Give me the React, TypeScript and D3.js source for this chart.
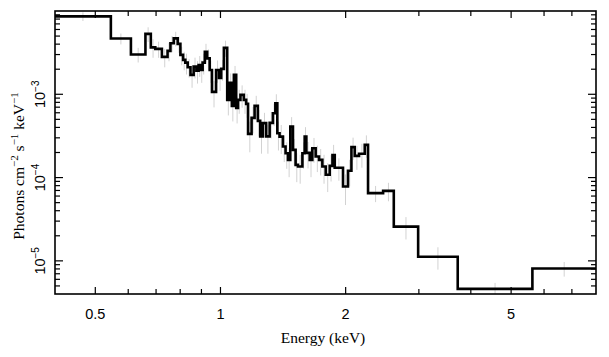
import React from "react";
import * as d3 from "d3";

// Bin edges (keV)
const binEdges = [
  0.4, 0.545, 0.609, 0.66, 0.68, 0.697, 0.723, 0.746, 0.758, 0.772,
  0.789, 0.801, 0.813, 0.823, 0.834, 0.847, 0.862, 0.875, 0.886, 0.897,
  0.906, 0.917, 0.929, 0.942, 0.954, 0.976, 0.992, 1.004, 1.019, 1.038,
  1.051, 1.065, 1.077, 1.091, 1.102, 1.117, 1.138, 1.153, 1.165, 1.188,
  1.208, 1.23, 1.246, 1.264, 1.288, 1.313, 1.337, 1.355, 1.37, 1.387,
  1.413, 1.434, 1.453, 1.472, 1.494, 1.516, 1.536, 1.574, 1.594, 1.609,
  1.639, 1.663, 1.694, 1.726, 1.758, 1.791, 1.831, 1.859, 1.883, 1.971,
  2.026, 2.065, 2.103, 2.154, 2.223, 2.264, 2.461, 2.611, 2.988, 3.72,
  5.625, 8.0,
];

// Unfolded flux per bin (photons cm^-2 s^-1 keV^-1)
const fluxValues = [
  8.61e-3, 4.67e-3, 3.01e-3, 5.31e-3, 3.66e-3, 3.51e-3, 2.81e-3, 3.32e-3, 4.1e-3, 4.69e-3,
  4.03e-3, 2.97e-3, 2.59e-3, 2.4e-3, 2.11e-3, 1.71e-3, 2.15e-3, 1.92e-3, 2.25e-3, 1.96e-3,
  2.4e-3, 3.23e-3, 2.7e-3, 1.96e-3, 1.07e-3, 1.96e-3, 1.57e-3, 2.02e-3, 3.61e-3, 8.57e-4,
  1.37e-3, 7.26e-4, 1.71e-3, 6.87e-4, 8.57e-4, 9.84e-4, 8.57e-4, 7.67e-4, 3.35e-4, 5.21e-4,
  7.26e-4, 4.8e-4, 3.12e-4, 4.5e-4, 3.12e-4, 4.54e-4, 5.93e-4, 7.82e-4, 3.41e-4, 3.1e-4,
  2.36e-4, 1.96e-4, 1.63e-4, 4.09e-4, 2.15e-4, 1.42e-4, 1.36e-4, 1.96e-4, 3.1e-4, 1.98e-4,
  1.63e-4, 2.25e-4, 1.79e-4, 1.63e-4, 1.36e-4, 1.08e-4, 1.38e-4, 1.87e-4, 1.31e-4, 7.8e-5,
  1.21e-4, 2.32e-4, 1.82e-4, 1.93e-4, 2.47e-4, 6.5e-5, 6.92e-5, 2.58e-5, 1.12e-5, 4.61e-6,
  8.08e-6,
];

// Fractional 1-sigma errors per bin
const errorFrac = [
  0.12, 0.15, 0.2, 0.2, 0.25, 0.22, 0.25, 0.25, 0.22, 0.2,
  0.22, 0.25, 0.25, 0.28, 0.25, 0.3, 0.28, 0.3, 0.28, 0.3,
  0.28, 0.25, 0.28, 0.3, 0.35, 0.3, 0.3, 0.28, 0.22, 0.35,
  0.3, 0.35, 0.28, 0.35, 0.32, 0.3, 0.32, 0.32, 0.4, 0.35,
  0.32, 0.35, 0.38, 0.33, 0.38, 0.35, 0.3, 0.28, 0.38, 0.38,
  0.35, 0.35, 0.38, 0.3, 0.35, 0.38, 0.38, 0.35, 0.3, 0.35,
  0.38, 0.33, 0.35, 0.35, 0.38, 0.38, 0.35, 0.32, 0.3, 0.4,
  0.35, 0.3, 0.32, 0.32, 0.3, 0.22, 0.25, 0.3, 0.3, 0.18,
  0.2,
];

const xMajorTicks = [0.5, 1, 2, 5];
const xMinorTicks = [0.6, 0.7, 0.8, 0.9, 3, 4, 6, 7];
const yMajorTicks = [1e-5, 1e-4, 1e-3];
const yMajorLabels = ["\u22125", "\u22124", "\u22123"];
const yMinorTicks = [
  5e-6, 6e-6, 7e-6, 8e-6, 9e-6,
  2e-5, 3e-5, 4e-5, 5e-5, 6e-5, 7e-5, 8e-5, 9e-5,
  2e-4, 3e-4, 4e-4, 5e-4, 6e-4, 7e-4, 8e-4, 9e-4,
  2e-3, 3e-3, 4e-3, 5e-3, 6e-3, 7e-3, 8e-3, 9e-3,
];

const W = 609;
const H = 357;
const L = 55;
const R = 596;
const T = 11;
const B = 294;

export default function App() {
  const x = d3.scaleLog().domain([0.4, 8]).range([L, R]);
  const y = d3.scaleLog().domain([4e-6, 1e-2]).range([B, T]);

  const pts: [number, number][] = fluxValues.map((f, i) => [binEdges[i], f]);
  pts.push([binEdges[binEdges.length - 1], fluxValues[fluxValues.length - 1]]);
  const line = d3
    .line<[number, number]>()
    .x((d) => x(d[0]))
    .y((d) => y(d[1]))
    .curve(d3.curveStepAfter);

  const sans = "'Liberation Sans', Arial, Helvetica, sans-serif";
  const serif = "'Liberation Serif', 'Times New Roman', serif";

  return (
    <svg
      width={W}
      height={H}
      style={{ position: "absolute", left: 0, top: 0, background: "#fff" }}
    >
      <defs>
        <clipPath id="plot">
          <rect x={L} y={T} width={R - L} height={B - T} />
        </clipPath>
      </defs>
      <rect x={0} y={0} width={W} height={H} fill="#fff" />
      <g clipPath="url(#plot)">
        {fluxValues.map((f, i) => {
          const c = Math.sqrt(binEdges[i] * binEdges[i + 1]);
          const e = errorFrac[i];
          return (
            <line
              key={"e" + i}
              x1={x(c)}
              x2={x(c)}
              y1={y(f * (1 + e))}
              y2={y(f * Math.max(1 - e, 0.05))}
              stroke="#d2d2d2"
              strokeWidth={1}
            />
          );
        })}
        <path
          d={line(pts) || ""}
          fill="none"
          stroke="#000"
          strokeWidth={2.6}
          strokeLinejoin="miter"
        />
      </g>
      {/* ticks */}
      {xMajorTicks.map((t) => (
        <g key={"xM" + t}>
          <line x1={x(t)} x2={x(t)} y1={B} y2={B - 7} stroke="#000" strokeWidth={1.2} />
          <line x1={x(t)} x2={x(t)} y1={T} y2={T + 7} stroke="#000" strokeWidth={1.2} />
          <text x={x(t)} y={319} fontFamily={sans} fontSize={14.5} textAnchor="middle" fill="#000">
            {t}
          </text>
        </g>
      ))}
      {xMinorTicks.map((t) => (
        <g key={"xm" + t}>
          <line x1={x(t)} x2={x(t)} y1={B} y2={B - 5} stroke="#000" strokeWidth={1.2} />
          <line x1={x(t)} x2={x(t)} y1={T} y2={T + 5} stroke="#000" strokeWidth={1.2} />
        </g>
      ))}
      {yMajorTicks.map((t, i) => (
        <g key={"yM" + t}>
          <line x1={L} x2={L + 8} y1={y(t)} y2={y(t)} stroke="#000" strokeWidth={1.2} />
          <line x1={R} x2={R - 8} y1={y(t)} y2={y(t)} stroke="#000" strokeWidth={1.2} />
          <text
            transform={`translate(45,${y(t)}) rotate(-90)`}
            fontFamily={sans}
            fontSize={14.5}
            textAnchor="middle"
            fill="#000"
          >
            10
            <tspan fontSize={10} dy={-6}>
              {yMajorLabels[i]}
            </tspan>
          </text>
        </g>
      ))}
      {yMinorTicks.map((t) => (
        <g key={"ym" + t}>
          <line x1={L} x2={L + 5} y1={y(t)} y2={y(t)} stroke="#000" strokeWidth={1.2} />
          <line x1={R} x2={R - 5} y1={y(t)} y2={y(t)} stroke="#000" strokeWidth={1.2} />
        </g>
      ))}
      <rect x={L} y={T} width={R - L} height={B - T} fill="none" stroke="#000" strokeWidth={1.6} />
      <text x={323} y={343} fontFamily={serif} fontSize={15.5} textAnchor="middle" fill="#000">
        Energy (keV)
      </text>
      <text
        transform={`translate(24,166) rotate(-90)`}
        fontFamily={serif}
        fontSize={15.5}
        textAnchor="middle"
        fill="#000"
      >
        Photons cm
        <tspan fontSize={11} dy={-6}>{"\u22122"}</tspan>
        <tspan dy={6}> s</tspan>
        <tspan fontSize={11} dy={-6}>{"\u22121"}</tspan>
        <tspan dy={6}> keV</tspan>
        <tspan fontSize={11} dy={-6}>{"\u22121"}</tspan>
      </text>
    </svg>
  );
}
